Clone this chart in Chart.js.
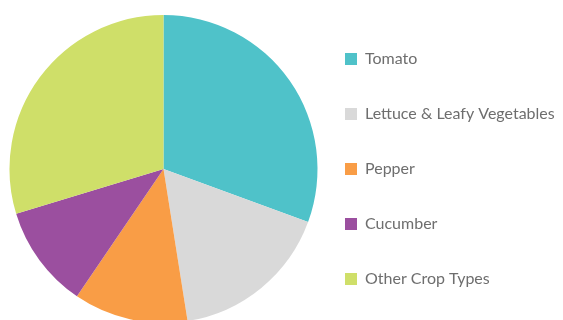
<!DOCTYPE html>
<html>
<head>
<meta charset="utf-8">
<title>Crop Types</title>
<script src="https://cdn.jsdelivr.net/npm/chart.js@4/dist/chart.umd.min.js"></script>
<style>
    html, body { margin: 0; padding: 0; background: #ffffff; overflow: hidden; }
    #wrap { position: relative; width: 563px; height: 320px; overflow: hidden; }
</style>
</head>
<body>
<div id="wrap"><canvas id="cropChart" width="563" height="340"></canvas></div>
<script>
// Share of area by crop type
var cropLabels = ['Tomato', 'Lettuce & Leafy Vegetables', 'Pepper', 'Cucumber', 'Other Crop Types'];
var cropShares = [30.6, 16.9, 12.0, 10.8, 29.7];
var cropColors = ['#4fc2c9', '#d9d9d9', '#f99d46', '#9b4f9f', '#cfdf69'];

// canvas is a bit taller than the page so the pie runs off the bottom edge
var ctx = document.getElementById('cropChart').getContext('2d');
var cropChart = new Chart(ctx, {
    type: 'pie',
    data: {
        labels: cropLabels,
        datasets: [{
            data: cropShares,
            backgroundColor: cropColors,
            borderWidth: 0,
            radius: 154,
            clip: false
        }]
    },
    options: {
        responsive: false,
        animation: false,
        layout: {
            padding: { left: 21, top: 10, right: 0, bottom: 12 }
        },
        plugins: {
            tooltip: { enabled: false },
            legend: {
                position: 'right',
                align: 'center',
                maxWidth: 257,
                labels: {
                    boxWidth: 12,
                    boxHeight: 12,
                    padding: 39,
                    color: '#6e6e6e',
                    font: { family: 'Lato', size: 16 }
                }
            }
        }
    }
});
</script>
</body>
</html>
